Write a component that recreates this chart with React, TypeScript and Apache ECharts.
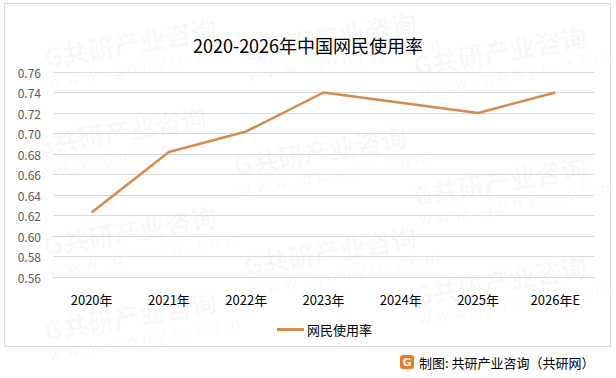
import React, { useEffect, useRef } from "react";
import * as echarts from "echarts";

const categories = ["2020年", "2021年", "2022年", "2023年", "2024年", "2025年", "2026年E"];
const rateValues = [0.623, 0.682, 0.702, 0.74, 0.73, 0.72, 0.74];
const seriesName = "网民使用率";
const titleText = "2020-2026年中国网民使用率";
const sourceText = "制图: 共研产业咨询（共研网）";

const wmPositions: [number, number][] = [
  [130, 42], [330, 36], [500, 50],
  [120, 130], [320, 150], [500, 180],
  [130, 230], [330, 250], [500, 280],
  [130, 315],
];

export default function App() {
  const ref = useRef<HTMLDivElement>(null);
  useEffect(() => {
    if (!ref.current) return;
    const chart = echarts.init(ref.current, null, { renderer: "svg" });
    const watermarks: any[] = [];
    wmPositions.forEach(([x, y]) => {
      watermarks.push({
        type: "group",
        x,
        y,
        rotation: 0.17,
        silent: true,
        z: 0,
        children: [
          {
            type: "text",
            x: 0,
            y: 0,
            style: {
              text: "G共研产业咨询",
              font: "bold 26px 'Noto Sans CJK SC'",
              fill: "rgba(0,0,0,0.045)",
              textAlign: "center",
              textVerticalAlign: "middle",
            },
          },
          {
            type: "text",
            x: 10,
            y: 26,
            style: {
              text: "w w w . g o n y n . c o m",
              font: "16px 'DejaVu Sans'",
              fill: "rgba(0,0,0,0.045)",
              textAlign: "center",
              textVerticalAlign: "middle",
            },
          },
        ],
      });
    });
    chart.setOption({
      animation: false,
      backgroundColor: "#ffffff",
      title: {
        text: titleText,
        left: "center",
        top: 31,
        textStyle: {
          fontFamily: "'Noto Sans CJK SC'",
          fontSize: 18,
          fontWeight: "normal",
          color: "#000000",
        },
      },
      grid: { left: 53, right: 22, top: 72, bottom: 101 },
      legend: {
        data: [seriesName],
        left: 272,
        top: 318,
        itemWidth: 27,
        itemHeight: 3,
        itemGap: 4,
        icon: "rect",
        textStyle: { fontFamily: "'Noto Sans CJK SC'", fontSize: 13, color: "#000000", padding: [0, 0, 0, -2] },
      },
      xAxis: {
        type: "category",
        data: categories,
        boundaryGap: true,
        axisLine: { show: true, lineStyle: { color: "#D9D9D9" } },
        axisTick: { show: false },
        axisLabel: { color: "#000000", fontSize: 13, margin: 16, fontFamily: "'Noto Sans CJK SC'" },
      },
      yAxis: {
        type: "value",
        min: 0.56,
        max: 0.76,
        interval: 0.02,
        axisLine: { show: false },
        axisTick: { show: false },
        splitLine: { lineStyle: { color: "#D9D9D9", width: 1 } },
        axisLabel: {
          color: "#595959",
          fontSize: 12,
          margin: 12,
          fontFamily: "'Noto Sans CJK SC'",
          formatter: (v: number) => v.toFixed(2),
        },
      },
      series: [
        {
          name: seriesName,
          type: "line",
          data: rateValues,
          symbol: "none",
          lineStyle: { color: "#D68B4B", width: 2.5 },
          itemStyle: { color: "#D68B4B" },
          z: 5,
        },
      ],
      graphic: [
        ...watermarks,
        {
          type: "rect",
          shape: { x: 4.5, y: 3.5, width: 606, height: 343 },
          style: { fill: "none", stroke: "#D9D9D9", lineWidth: 1 },
          silent: true,
          z: 1,
        },
        {
          type: "rect",
          shape: { x: 400, y: 355, width: 14, height: 14, r: 3 },
          style: { fill: "#F07A22" },
          z: 2,
        },
        {
          type: "text",
          x: 407,
          y: 362.5,
          style: {
            text: "G",
            font: "bold 11px 'DejaVu Sans'",
            fill: "#ffffff",
            textAlign: "center",
            textVerticalAlign: "middle",
          },
          z: 3,
        },
        {
          type: "text",
          x: 419,
          y: 362.5,
          style: {
            text: sourceText,
            font: "13px 'Noto Sans CJK SC'",
            fill: "#000000",
            textAlign: "left",
            textVerticalAlign: "middle",
          },
          z: 3,
        },
      ],
    });
    return () => chart.dispose();
  }, []);
  return <div ref={ref} style={{ position: "fixed", left: 0, top: 0, width: 616, height: 378 }} />;
}
